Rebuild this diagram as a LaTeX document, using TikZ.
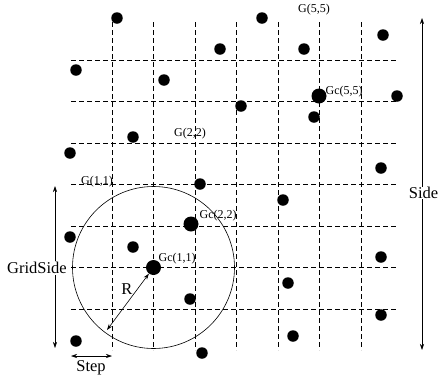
\documentclass[tikz,border=0pt]{standalone}
\usepackage{fontspec}
\setmainfont{Liberation Serif}
\usetikzlibrary{arrows.meta}

\begin{document}
\begin{tikzpicture}[
        x = 1pt, y = -1pt,
        >= {Stealth[length = 6pt, width = 4pt]},
        gridline/.style = {dash pattern = on 5pt off 3pt, line width = 0.7pt},
        sensor/.style = {circle, fill, inner sep = 0pt, minimum size = 11.5pt},
        head/.style = {circle, fill, inner sep = 0pt, minimum size = 15pt},
        tag/.style = {font = \fontsize{12}{12}\selectfont, inner sep = 0.5pt},
        dim/.style = {font = \fontsize{16.5}{17}\selectfont, fill = white, inner sep = 1pt}
    ]
      \useasboundingbox (0,0) rectangle (440,381);

      % dashed grid
      \foreach \k in {0,...,6} {
        \draw[gridline] (71, 60 + 41.5*\k) -- (398, 60 + 41.5*\k);
        \draw[gridline] (112 + 41.5*\k, 22) -- (112 + 41.5*\k, 350);
      }

      % nodes of the field
      \foreach \px/\py [count = \i] in {117/18, 262/18, 383/35, 220/49, 304/49, 76/70,
            164/80, 397/96, 241/106, 314/117, 133/137, 70/153, 381/168, 200/184,
            283/200, 70/237, 133/247, 381/257, 288/283, 190/299, 381/315, 293/336,
            76/341, 202/353}
        \node[sensor] (s\i) at (\px, \py) {};

      % grid heads
      \node[head] (c55) at (319, 96) {};
      \node[head] (c22) at (191, 224) {};
      \node[head] (c11) at (153.5, 267.5) {};

      \draw[line width = 0.6pt] (c11.center) circle (81);

      \node[tag] (g55) at (314, 10) {G(5,5)};
      \node[tag] (g22) at (190, 134) {G(2,2)};
      \node[tag] (g11) at (97, 182) {G(1,1)};
      \node[tag, anchor = west] (gc55) at (325, 92) {Gc(5,5)};
      \node[tag, anchor = west] (gc22) at (199, 216) {Gc(2,2)};
      \node[tag, anchor = west] (gc11) at (158, 259) {Gc(1,1)};

      % dimensions
      \coordinate (rim)  at (107, 330);
      \coordinate (gtop) at (55, 186);
      \coordinate (gbot) at (55, 348);
      \coordinate (stop) at (422, 18);
      \coordinate (sbot) at (422, 350);
      \coordinate (wl)   at (71, 356);
      \coordinate (wr)   at (112, 356);

      \draw[<->, line width = 0.6pt] (c11) -- (rim);
      \draw[<->, line width = 0.6pt] (gtop) -- (gbot);
      \draw[<->, line width = 0.6pt] (stop) -- (sbot);
      \draw[<->, line width = 0.6pt] (wl) -- (wr);

      \node[dim, fill = none] (r) at (127, 289) {R};
      \node[dim] (gs) at (37, 268) {GridSide};
      \node[dim, inner sep = 0.5pt] (sd) at (423.5, 193) {Side};
      \node[dim, fill = none] (st) at (91, 368) {Step};
    \end{tikzpicture}
\end{document}
